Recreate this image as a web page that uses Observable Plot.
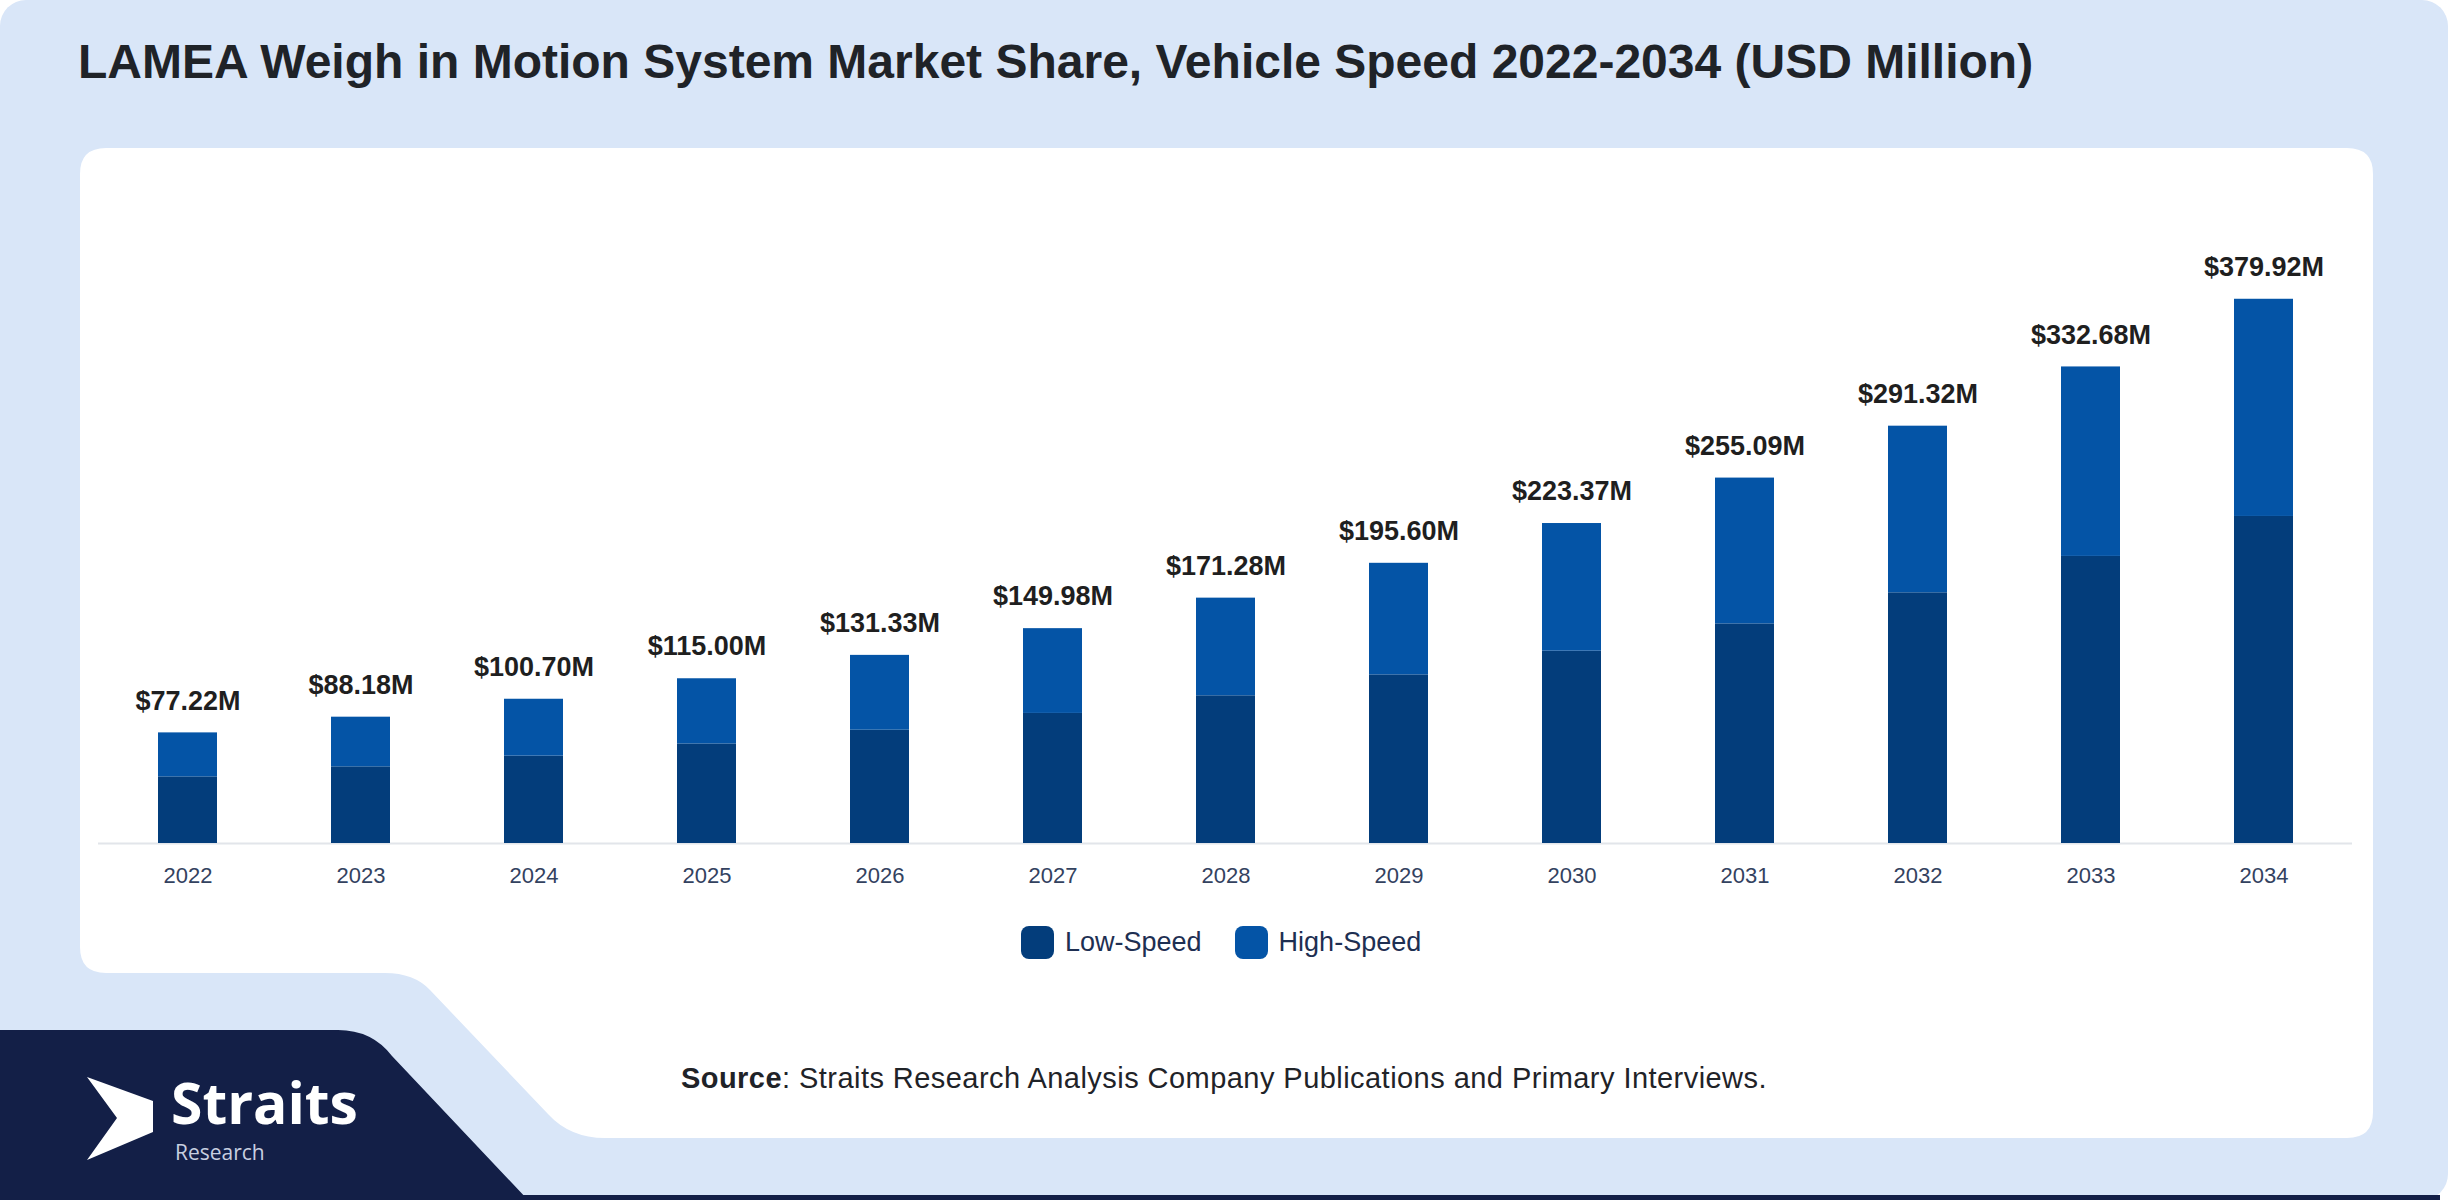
<!DOCTYPE html>
<html>
<head>
<meta charset="utf-8">
<script src="https://cdn.jsdelivr.net/npm/d3@7"></script>
<script src="https://cdn.jsdelivr.net/npm/@observablehq/plot@0.6"></script>
<style>
  html, body { margin: 0; padding: 0; background: #ffffff; }
  #page { position: relative; width: 2450px; height: 1200px; overflow: hidden; font-family: "Liberation Sans", Arial, sans-serif; }
  #deco { position: absolute; left: 0; top: 0; }
  #title { position: absolute; left: 78px; top: 38px; font-size: 48px; line-height: 1; font-weight: bold; color: #1f2328; white-space: nowrap; }
  #chart { position: absolute; left: 0; top: 150px; }
  #legend { position: absolute; top: 926px; left: 1021px; height: 33px; display: flex; align-items: center; font-size: 27px; color: #1e2f52; white-space: nowrap; }
  #legend .sw { width: 33px; height: 33px; border-radius: 8px; display: inline-block; }
  #legend .lab { margin-left: 11px; }
  #source { position: absolute; left: 681px; top: 1064px; font-size: 29px; letter-spacing: 0.45px; line-height: 1; color: #1f2328; white-space: nowrap; }
</style>
</head>
<body>
<div id="page">
  <svg id="deco" width="2450" height="1200" viewBox="0 0 2450 1200">
    <rect x="0" y="0" width="2448" height="1200" rx="26" fill="#d9e6f8"/>
    <path d="M 110 148 H 2347 Q 2373 148 2373 174 V 1112 Q 2373 1138 2347 1138 H 605 Q 570 1138 548 1114 L 430 990 Q 414 973 385 973 H 106 Q 80 973 80 947 V 174 Q 80 148 106 148 Z" fill="#ffffff"/>
    <path d="M 0 1030 H 338 Q 372 1030 392 1056 L 528 1200 H 0 Z" fill="#131f47"/>
    <rect x="0" y="1195" width="2440" height="5" fill="#131f47"/>
    <polygon points="87,1077 153,1101 153,1132 87,1160 117,1118" fill="#ffffff"/>
    <text x="171" y="1124" font-family="'Open Sans', sans-serif" font-weight="700" font-size="57" fill="#ffffff">Straits</text>
    <text x="175" y="1160" font-family="'Open Sans', sans-serif" font-size="21" fill="#c8cfe0">Research</text>
  </svg>
  <div id="title">LAMEA Weigh in Motion System Market Share, Vehicle Speed 2022-2034 (USD Million)</div>
  <div id="chart"></div>
  <div id="legend">
    <span class="sw" style="background:#033d7b"></span><span class="lab">Low-Speed</span>
    <span class="sw" style="background:#0454a6; margin-left:33px"></span><span class="lab">High-Speed</span>
  </div>
  <div id="source"><b>Source</b>: Straits Research Analysis Company Publications and Primary Interviews.</div>
</div>
<script>
const years = ["2022","2023","2024","2025","2026","2027","2028","2029","2030","2031","2032","2033","2034"];
const seriesNames = ["Low-Speed", "High-Speed"];
const seriesColors = ["#033d7b", "#0454a6"];
const lowSpeed  = [46.5, 53.5, 61.0, 69.5, 79.1, 90.8, 103.1, 117.7, 134.3, 153.3, 175.0, 200.4, 228.3];
const highSpeed = [30.72, 34.68, 39.70, 45.50, 52.23, 59.18, 68.18, 77.90, 89.07, 101.79, 116.32, 132.28, 151.62];
const totals    = [77.22, 88.18, 100.70, 115.00, 131.33, 149.98, 171.28, 195.60, 223.37, 255.09, 291.32, 332.68, 379.92];
const totalLabels = ["$77.22M","$88.18M","$100.70M","$115.00M","$131.33M","$149.98M","$171.28M","$195.60M","$223.37M","$255.09M","$291.32M","$332.68M","$379.92M"];

const rows = [];
years.forEach((y, i) => rows.push({year: y, series: seriesNames[0], value: lowSpeed[i]}));
years.forEach((y, i) => rows.push({year: y, series: seriesNames[1], value: highSpeed[i]}));
const totalRows = years.map((y, i) => ({year: y, total: totals[i], label: totalLabels[i]}));

const chart = Plot.plot({
  width: 2450,
  height: 760,
  marginLeft: 98,
  marginRight: 98,
  marginTop: 120,
  marginBottom: 67,
  style: {fontFamily: "'Liberation Sans', Arial, sans-serif", fontSize: "22px", color: "#33425f", background: "transparent", overflow: "visible"},
  x: {type: "band", domain: years, paddingInner: 0.66, paddingOuter: 0.33, label: null, tickSize: 0, tickPadding: 24},
  y: {domain: [0, 400], axis: null},
  color: {domain: seriesNames, range: seriesColors},
  marks: [
    Plot.ruleY([0], {stroke: "#e2e5ea", strokeWidth: 2}),
    Plot.barY(rows, {x: "year", y: "value", fill: "series"}),
    Plot.text(totalRows, {x: "year", y: "total", text: "label", dy: -32, fontSize: 27, fontWeight: "bold", fill: "#1f1f1f"})
  ]
});
document.getElementById("chart").appendChild(chart);
</script>
</body>
</html>
